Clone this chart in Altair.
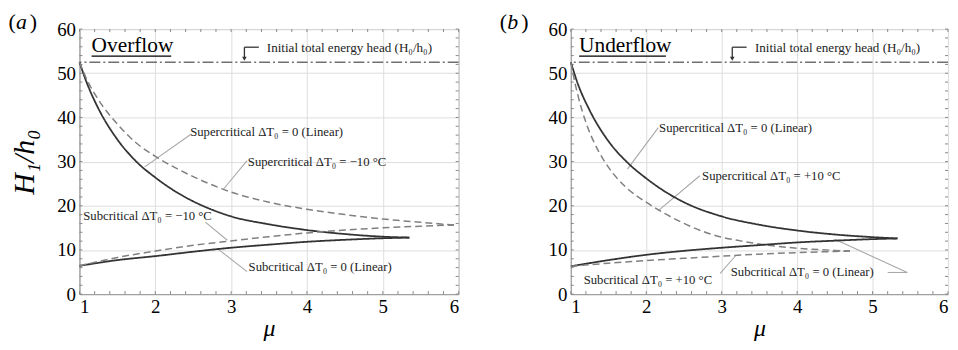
import altair as alt
import pandas as pd
import numpy as np

FONT = "Liberation Serif"
E0 = 52.5  # initial total energy head H0/h0

# ---------- Panel (a): Overflow ----------
a_sup_lin_mu = [1, 1.1, 1.25, 1.5, 1.75, 2, 2.25, 2.5, 2.75, 3, 3.5, 4, 4.5, 5, 5.35]
a_sup_lin_H = [52.5, 47.7, 42.0, 35.0, 30.0, 26.4, 23.4, 21.0, 19.1, 17.6, 15.8, 14.5, 13.6, 13.0, 12.8]
a_sup_m10_mu = [1, 1.1, 1.25, 1.5, 1.75, 2, 2.5, 3, 3.5, 4, 4.5, 5, 5.5, 5.94]
a_sup_m10_H = [52.5, 48.5, 44.0, 38.5, 34.2, 31.2, 26.6, 23.1, 20.8, 19.2, 18.0, 17.0, 16.25, 15.65]
a_sub_lin_mu = [1, 1.5, 2, 2.5, 3, 3.5, 4, 4.5, 5, 5.35]
a_sub_lin_H = [6.4, 7.7, 8.6, 9.6, 10.5, 11.2, 11.85, 12.3, 12.65, 12.8]
a_sub_m10_mu = [1, 1.5, 2, 2.5, 3, 3.5, 4, 4.5, 5, 5.5, 5.94]
a_sub_m10_H = [6.4, 8.3, 9.75, 11.05, 12.05, 13.0, 13.85, 14.5, 15.0, 15.38, 15.65]

# ---------- Panel (b): Underflow ----------
b_sup_lin_mu = [1, 1.1, 1.25, 1.5, 1.75, 2, 2.25, 2.5, 3, 3.5, 4, 4.5, 5, 5.33]
b_sup_lin_H = [52.5, 47.3, 41.6, 34.6, 29.8, 26.2, 23.2, 20.8, 17.6, 15.7, 14.4, 13.5, 12.9, 12.6]
b_sup_p10_mu = [1, 1.05, 1.1, 1.2, 1.36, 1.5, 1.75, 2, 2.25, 2.5, 2.75, 3, 3.25, 3.5, 4, 4.5, 4.7]
b_sup_p10_H = [52.5, 48.2, 44.6, 38.9, 32.6, 28.7, 23.9, 20.8, 18.2, 16.0, 14.2, 12.9, 12.05, 11.35, 10.4, 9.9, 9.75]
b_sub_lin_mu = [1, 1.5, 2, 2.5, 3, 3.5, 4, 4.5, 5, 5.33]
b_sub_lin_H = [6.3, 7.7, 8.9, 9.8, 10.5, 11.1, 11.7, 12.1, 12.45, 12.6]
b_sub_p10_mu = [1, 1.5, 2, 2.5, 3, 3.5, 4, 4.5, 4.7]
b_sub_p10_H = [6.3, 7.0, 7.6, 8.1, 8.6, 9.05, 9.4, 9.65, 9.75]

x_ticks = [1, 2, 3, 4, 5, 6]
y_ticks = [0, 10, 20, 30, 40, 50, 60]
x_minor = [round(v, 1) for v in np.arange(1, 6.01, 0.2)]
y_minor = [int(v) for v in np.arange(0, 61, 2)]

ENERGY_TEXT = "Initial total energy head (H\u2080/h\u2080)"

a_notes = [
    (2.46, 36.6, "Supercritical \u0394T\u2080 = 0 (Linear)"),
    (3.22, 29.9, "Supercritical \u0394T\u2080 = \u221210 \u00b0C"),
    (1.05, 17.75, "Subcritical \u0394T\u2080 = \u221210 \u00b0C"),
    (3.23, 6.2, "Subcritical \u0394T\u2080 = 0 (Linear)"),
]
a_leaders = [
    (2.47, 36.2, 1.86, 28.8),
    (3.21, 30.2, 2.90, 23.8),
    (2.66, 16.3, 2.95, 12.2),
    (3.21, 5.1, 2.82, 10.3),
]
b_notes = [
    (2.17, 37.7, "Supercritical \u0394T\u2080 = 0 (Linear)"),
    (2.74, 26.8, "Supercritical \u0394T\u2080 = +10 \u00b0C"),
    (1.17, 3.2, "Subcritical \u0394T\u2080 = +10 \u00b0C"),
    (3.12, 4.9, "Subcritical \u0394T\u2080 = 0 (Linear)"),
]
b_leaders = [
    (2.16, 37.7, 1.75, 28.3),
    (2.71, 26.8, 2.16, 18.9),
    (2.98, 4.7, 3.19, 8.8),
    (5.20, 4.9, 5.46, 4.9),
    (5.46, 4.9, 4.50, 12.4),
]

W_A, W_B, HGT = 382, 380, 267

xscale = alt.Scale(domain=[1, 6], nice=False, zero=False)
yscale = alt.Scale(domain=[0, 60], nice=False)


def X(field, title="\u03bc"):
    return alt.X(field, type="quantitative", scale=xscale, axis=alt.Axis(
        values=x_ticks, format="d", ticks=False, grid=True, gridColor="#dddddd",
        domainColor="#999999", labelFont=FONT, labelFontSize=19, labelColor="black",
        labelPadding=4, title=title, titleFont=FONT, titleFontSize=24,
        titleFontStyle="italic", titleFontWeight="normal", titleColor="black",
        titlePadding=0))


def Y(field, title):
    return alt.Y(field, type="quantitative", scale=yscale, axis=alt.Axis(
        values=y_ticks, format="d", ticks=False, grid=True, gridColor="#dddddd",
        domainColor="#999999", labelFont=FONT, labelFontSize=19, labelColor="black",
        labelPadding=4, title=title, titleFont=FONT, titleFontSize=30,
        titleFontStyle="italic", titleFontWeight="normal", titleColor="black",
        titlePadding=17))


def panel(curves, letter, flow, flow_span, arrow_mu, energy_mu, notes, leaders, width, ytitle):
    rows = []
    for name, style, mus, hs in curves:
        for m, h in zip(mus, hs):
            rows.append({"curve": name, "style": style, "mu": m, "H": h})
    df = pd.DataFrame(rows)

    lines = alt.Chart(df).mark_line(interpolate="monotone").encode(
        x=X("mu"), y=Y("H", ytitle), detail="curve:N",
        color=alt.Color("style:N", scale=alt.Scale(domain=["solid", "dashed"],
                        range=["#333333", "#808080"]), legend=None),
        strokeDash=alt.StrokeDash("style:N", scale=alt.Scale(domain=["solid", "dashed"],
                                  range=[[1, 0], [7, 4]]), legend=None),
        strokeWidth=alt.StrokeWidth("style:N", scale=alt.Scale(domain=["solid", "dashed"],
                                    range=[1.8, 1.5]), legend=None),
    )

    energy = alt.Chart(pd.DataFrame({"H": [E0]})).mark_rule(
        color="#707070", strokeWidth=1.5, strokeDash=[11, 3, 2, 3]
    ).encode(y=Y("H", ytitle))

    # minor / major ticks on all four sides (inward)
    xt = pd.DataFrame({"mu": x_minor})
    yt = pd.DataFrame({"H": y_minor})
    tick_col = "#888888"
    tb = alt.Chart(xt).mark_rule(color=tick_col, strokeWidth=1).encode(
        x=X("mu"), y=alt.value(HGT), y2=alt.value(HGT - 3))
    tt = alt.Chart(xt).mark_rule(color=tick_col, strokeWidth=1).encode(
        x=X("mu"), y=alt.value(0), y2=alt.value(3))
    tl = alt.Chart(yt).mark_rule(color=tick_col, strokeWidth=1).encode(
        y=Y("H", ytitle), x=alt.value(0), x2=alt.value(3))
    tr = alt.Chart(yt).mark_rule(color=tick_col, strokeWidth=1).encode(
        y=Y("H", ytitle), x=alt.value(width), x2=alt.value(width - 3))

    # panel letter
    let = alt.Chart(pd.DataFrame({"t": ["(", ")"], "dx": [-71.5, -50]})).mark_text(
        align="left", baseline="middle", font=FONT, fontSize=22, color="black"
    ).encode(text="t:N", x=alt.X("dx:Q", scale=None), y=alt.value(-7))
    let2 = alt.Chart(pd.DataFrame({"t": [letter]})).mark_text(
        align="left", baseline="middle", font=FONT, fontSize=22, fontStyle="italic", color="black"
    ).encode(text="t:N", x=alt.value(-64), y=alt.value(-7))

    # flow title with underline
    fl = alt.Chart(pd.DataFrame({"mu": [flow_span[0]], "H": [54.8], "t": [flow]})).mark_text(
        align="left", baseline="alphabetic", font=FONT, fontSize=21.5, color="black"
    ).encode(x=X("mu"), y=Y("H", ytitle), text="t:N")
    ul = alt.Chart(pd.DataFrame({"mu": [flow_span[0]], "mu2": [flow_span[1]], "H": [53.9]})).mark_rule(
        color="black", strokeWidth=1.2).encode(x=X("mu"), x2="mu2", y=Y("H", ytitle))

    # energy head annotation with arrow
    arr = pd.DataFrame({"mu": [arrow_mu, arrow_mu], "mu2": [arrow_mu + 0.19, arrow_mu],
                        "H": [55.9, 55.9], "H2": [55.9, 53.4]})
    ar = alt.Chart(arr).mark_rule(color="#333333", strokeWidth=1.3).encode(
        x=X("mu"), x2="mu2", y=Y("H", ytitle), y2="H2")
    tip = alt.Chart(pd.DataFrame({"mu": [arrow_mu], "H": [53.3]})).mark_point(
        shape="triangle-down", filled=True, color="#333333", size=22, opacity=1).encode(
        x=X("mu"), y=Y("H", ytitle))
    et = alt.Chart(pd.DataFrame({"mu": [energy_mu], "H": [55.7], "t": [ENERGY_TEXT]})).mark_text(
        align="left", baseline="middle", font=FONT, fontSize=13.2, color="#222222"
    ).encode(x=X("mu"), y=Y("H", ytitle), text="t:N")

    nd = pd.DataFrame(notes, columns=["mu", "H", "t"])
    nt = alt.Chart(nd).mark_text(align="left", baseline="middle", font=FONT, fontSize=12.8,
                                 color="#222222").encode(x=X("mu"), y=Y("H", ytitle), text="t:N")
    ld = pd.DataFrame(leaders, columns=["mu", "H", "mu2", "H2"])
    lr = alt.Chart(ld).mark_rule(color="#a8a8a8", strokeWidth=1.1).encode(
        x=X("mu"), y=Y("H", ytitle), x2="mu2", y2="H2")

    return alt.layer(tb, tt, tl, tr, energy, lr, lines, ar, tip, et, fl, ul, nt, let, let2).properties(
        width=width, height=HGT)


pa = panel([
    ("sup_lin", "solid", a_sup_lin_mu, a_sup_lin_H),
    ("sup_m10", "dashed", a_sup_m10_mu, a_sup_m10_H),
    ("sub_lin", "solid", a_sub_lin_mu, a_sub_lin_H),
    ("sub_m10", "dashed", a_sub_m10_mu, a_sub_m10_H),
], "a", "Overflow", (1.16, 2.21), 3.175, 3.47, a_notes, a_leaders, W_A, "H\u2081/h\u2080")

pb = panel([
    ("sup_lin", "solid", b_sup_lin_mu, b_sup_lin_H),
    ("sup_p10", "dashed", b_sup_p10_mu, b_sup_p10_H),
    ("sub_lin", "solid", b_sub_lin_mu, b_sub_lin_H),
    ("sub_p10", "dashed", b_sub_p10_mu, b_sub_p10_H),
], "b", "Underflow", (1.11, 2.26), 3.14, 3.44, b_notes, b_leaders, W_B, None)

chart = alt.hconcat(pa, pb, spacing=113, bounds="flush").properties(
    padding={"left": 0, "top": 1, "right": 0, "bottom": 0}
).configure_view(stroke="#999999", strokeWidth=1)

chart.save("out.html", embed_options={"renderer": "svg", "actions": False})
